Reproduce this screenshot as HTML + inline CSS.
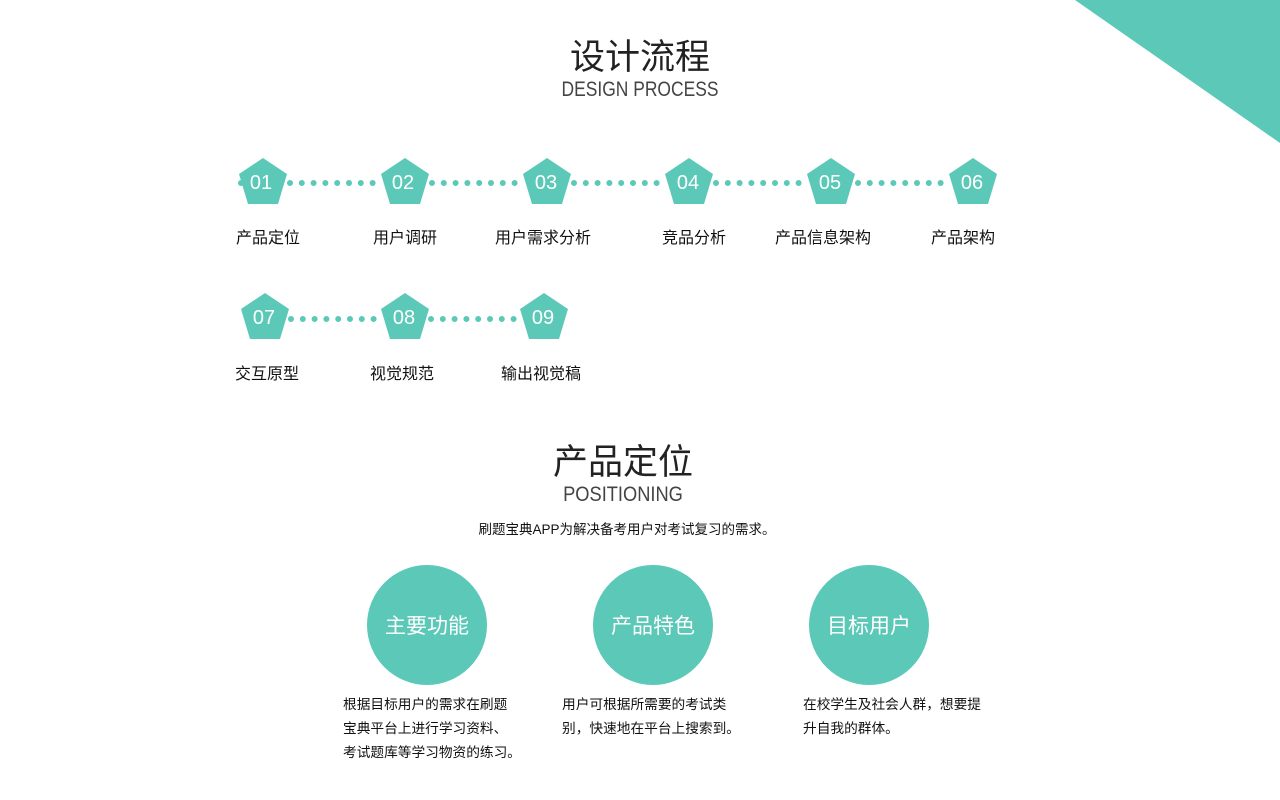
<!DOCTYPE html>
<html><head><meta charset="utf-8"><style>
html,body{margin:0;padding:0;width:1280px;height:800px;background:#fff;overflow:hidden}
body{position:relative;font-family:"Liberation Sans","Noto Sans CJK SC",sans-serif;color:#111}
.t{position:absolute;white-space:nowrap;transform:translateX(-50%)}
.l{position:absolute;white-space:nowrap}
svg{position:absolute;left:0;top:0}
</style></head><body>
<svg width="1280" height="800">
<polygon points="1075,0 1280,0 1280,143" fill="#5cc9b8"/>
<g stroke="#5cc9b8" stroke-width="6" stroke-linecap="round" stroke-dasharray="0 11.8">
<line x1="290" y1="183" x2="376" y2="183"/>
<line x1="432" y1="183" x2="518" y2="183"/>
<line x1="574" y1="183" x2="660" y2="183"/>
<line x1="716" y1="183" x2="802" y2="183"/>
<line x1="858" y1="183" x2="944" y2="183"/>
<line x1="291" y1="319" x2="377" y2="319"/>
<line x1="431" y1="319" x2="517" y2="319"/>
<line x1="241" y1="183" x2="242" y2="183"/>
</g>
<g fill="#5cc9b8">
<polygon points="263,158 287,174 278,204 248,204 239,174"/>
<polygon points="405,158 429,174 420,204 390,204 381,174"/>
<polygon points="547,158 571,174 562,204 532,204 523,174"/>
<polygon points="689,158 713,174 704,204 674,204 665,174"/>
<polygon points="831,158 855,174 846,204 816,204 807,174"/>
<polygon points="973,158 997,174 988,204 958,204 949,174"/>
<polygon points="265,293 289,309 280,339 250,339 241,309"/>
<polygon points="405,293 429,309 420,339 390,339 381,309"/>
<polygon points="544,293 568,309 559,339 529,339 520,309"/>
<circle cx="427" cy="625" r="60"/>
<circle cx="653" cy="625" r="60"/>
<circle cx="869" cy="625" r="60"/>
</g>
<g fill="#fff" font-family="Liberation Sans,sans-serif" font-size="20" text-anchor="middle">
<text x="261" y="189">01</text><text x="403" y="189">02</text><text x="546" y="189">03</text>
<text x="688" y="189">04</text><text x="830" y="189">05</text><text x="972" y="189">06</text>
<text x="264" y="324">07</text><text x="404" y="324">08</text><text x="543" y="324">09</text>
</g>
<g fill="#fff" font-family="Liberation Sans,Noto Sans CJK SC,sans-serif" font-size="21" text-anchor="middle">
<text x="427" y="633">主要功能</text><text x="653" y="633">产品特色</text><text x="869" y="633">目标用户</text>
</g>
</svg>
<div class="t" style="left:640px;top:29px;font-size:35px;color:#222">设计流程</div>
<div class="t" style="left:640px;top:78px;font-size:21px;color:#444;transform:translateX(-50%) scaleX(0.83)">DESIGN PROCESS</div>
<div class="t" style="left:268px;top:224px;font-size:16px">产品定位</div>
<div class="t" style="left:405px;top:224px;font-size:16px">用户调研</div>
<div class="t" style="left:543px;top:224px;font-size:16px">用户需求分析</div>
<div class="t" style="left:694px;top:224px;font-size:16px">竞品分析</div>
<div class="t" style="left:823px;top:224px;font-size:16px">产品信息架构</div>
<div class="t" style="left:963px;top:224px;font-size:16px">产品架构</div>
<div class="t" style="left:267px;top:360px;font-size:16px">交互原型</div>
<div class="t" style="left:402px;top:360px;font-size:16px">视觉规范</div>
<div class="t" style="left:541px;top:360px;font-size:16px">输出视觉稿</div>
<div class="t" style="left:623px;top:434px;font-size:35px;color:#222">产品定位</div>
<div class="t" style="left:623px;top:483px;font-size:21px;color:#444;transform:translateX(-50%) scaleX(0.87)">POSITIONING</div>
<div class="t" style="left:627px;top:518px;font-size:13.5px">刷题宝典APP为解决备考用户对考试复习的需求。</div>
<div class="l" style="left:343px;top:693px;font-size:13.7px;line-height:24px">根据目标用户的需求在刷题<br>宝典平台上进行学习资料、<br>考试题库等学习物资的练习。</div>
<div class="l" style="left:562px;top:693px;font-size:13.7px;line-height:24px">用户可根据所需要的考试类<br>别，快速地在平台上搜索到。</div>
<div class="l" style="left:803px;top:693px;font-size:13.7px;line-height:24px">在校学生及社会人群，想要提<br>升自我的群体。</div>
</body></html>
